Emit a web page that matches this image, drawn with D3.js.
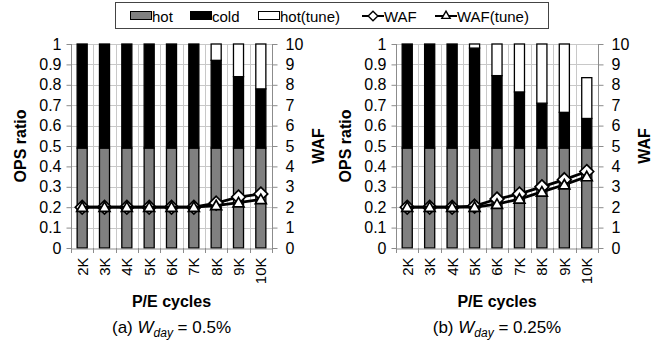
<!DOCTYPE html>
<html>
<head>
<meta charset="utf-8">
<script src="https://cdn.jsdelivr.net/npm/d3@7"></script>
<style>
  html, body { margin: 0; padding: 0; background: #fff; }
  svg { display: block; font-family: "Liberation Sans", Arial, sans-serif; }
</style>
</head>
<body>
<svg id="chart" width="664" height="346"></svg>
<script>
// P/E cycle categories shared by both panels
const categories = ["2K", "3K", "4K", "5K", "6K", "7K", "8K", "9K", "10K"];

// Panel (a): W_day = 0.5%
const hotA     = [0.49, 0.49, 0.49, 0.49, 0.49, 0.49, 0.49, 0.49, 0.49];
const coldA    = [0.51, 0.51, 0.51, 0.51, 0.51, 0.51, 0.43, 0.35, 0.29];
const hotTuneA = [0, 0, 0, 0, 0, 0, 0.08, 0.16, 0.22];
const wafA     = [2, 2, 2, 2, 2, 2, 2.2, 2.5, 2.65];
const wafTuneA = [2, 2, 2, 2, 2, 2, 2.08, 2.22, 2.38];

// Panel (b): W_day = 0.25%
const hotB     = [0.49, 0.49, 0.49, 0.49, 0.49, 0.49, 0.49, 0.49, 0.49];
const coldB    = [0.51, 0.51, 0.51, 0.49, 0.355, 0.275, 0.22, 0.175, 0.145];
const hotTuneB = [0, 0, 0, 0.02, 0.155, 0.235, 0.29, 0.335, 0.2];
const wafB     = [2, 2, 2, 2.05, 2.4, 2.65, 3.0, 3.35, 3.75];
const wafTuneB = [2, 2, 2, 2.0, 2.15, 2.4, 2.75, 3.1, 3.5];

const ratioTicks = [0, 0.1, 0.2, 0.3, 0.4, 0.5, 0.6, 0.7, 0.8, 0.9, 1];
const wafTicks = [0, 1, 2, 3, 4, 5, 6, 7, 8, 9, 10];

const seriesKeys = ["hot", "cold", "hotTune"];
const fills = { hot: "#808080", cold: "#000000", hotTune: "#ffffff" };

const svg = d3.select("#chart");
const plotTop = 44, plotBottom = 248;
const gridColor = "#c8c8c8", axisColor = "#8c8c8c";

function panel(opts) {
  const { left, right, hot, cold, hotTune, waf, wafTune, captionParts } = opts;
  const g = svg.append("g");

  const x = d3.scaleBand().domain(categories).range([left, right]).paddingInner(0.55).paddingOuter(0.275);
  const y = d3.scaleLinear().domain([0, 1]).range([plotBottom, plotTop]);
  const y2 = d3.scaleLinear().domain([0, 10]).range([plotBottom, plotTop]);

  // horizontal gridlines
  g.append("g").selectAll("line").data(ratioTicks.slice(1)).join("line")
    .attr("x1", left).attr("x2", right)
    .attr("y1", d => Math.round(y(d)) + 0.5).attr("y2", d => Math.round(y(d)) + 0.5)
    .attr("stroke", gridColor).attr("stroke-width", 1);

  // vertical gridlines at category boundaries
  const bounds = d3.range(1, categories.length + 1).map(i => left + i * (right - left) / categories.length);
  g.append("g").selectAll("line").data(bounds).join("line")
    .attr("x1", d => Math.round(d) + 0.5).attr("x2", d => Math.round(d) + 0.5)
    .attr("y1", plotTop).attr("y2", plotBottom)
    .attr("stroke", gridColor).attr("stroke-width", 1);

  // stacked bars
  const rows = categories.map((c, i) => ({ cat: c, hot: hot[i], cold: cold[i], hotTune: hotTune[i] }));
  const stacked = d3.stack().keys(seriesKeys)(rows);
  stacked.forEach(layer => {
    g.append("g").selectAll("rect").data(layer.filter(d => d[1] - d[0] > 0)).join("rect")
      .attr("x", d => x(d.data.cat))
      .attr("width", x.bandwidth())
      .attr("y", d => y(d[1]))
      .attr("height", d => y(d[0]) - y(d[1]))
      .attr("fill", fills[layer.key])
      .attr("stroke", "#000").attr("stroke-width", 1.3);
  });

  // left axis
  const axL = g.append("g").attr("transform", `translate(${left + 0.5},0)`)
    .call(d3.axisLeft(y).tickValues(ratioTicks).tickFormat(d3.format("~g")).tickSize(5).tickPadding(5));
  // right axis
  const axR = g.append("g").attr("transform", `translate(${right + 0.5},0)`)
    .call(d3.axisRight(y2).tickValues(wafTicks).tickSize(5).tickPadding(8));
  // bottom axis, labels rotated
  const axB = g.append("g").attr("transform", `translate(0,${plotBottom + 0.5})`)
    .call(d3.axisBottom(x).tickSize(0).tickPadding(6));

  [axL, axR, axB].forEach(a => {
    a.selectAll(".domain").attr("stroke", axisColor);
    a.selectAll(".tick line").attr("stroke", axisColor);
    a.selectAll(".tick text").attr("font-size", 16).attr("fill", "#000")
      .attr("font-family", "'Liberation Sans', Arial, sans-serif");
  });
  axB.selectAll(".tick text")
    .attr("font-size", 15)
    .attr("text-anchor", "end")
    .attr("x", 0).attr("y", 0)
    .attr("dx", 0).attr("dy", "0.36em")
    .attr("transform", "translate(0,9) rotate(-90)");
  // ticks at category boundaries
  g.append("g").selectAll("line").data([left].concat(bounds)).join("line")
    .attr("x1", d => Math.round(d) + 0.5).attr("x2", d => Math.round(d) + 0.5)
    .attr("y1", plotBottom).attr("y2", plotBottom + 5)
    .attr("stroke", axisColor);
  axR.select(".domain").attr("d", `M0,${plotTop}V${plotBottom}`);
  axL.select(".domain").attr("d", `M0,${plotTop}V${plotBottom}`);

  // WAF lines with markers
  const cx = c => x(c) + x.bandwidth() / 2;
  const line = d3.line().x((d, i) => cx(categories[i])).y(d => y2(d));
  const drawSeries = (vals, symType, size, yOff) => {
    g.append("path").datum(vals).attr("d", line)
      .attr("fill", "none").attr("stroke", "#000").attr("stroke-width", 2.8);
    g.append("g").selectAll("path").data(vals).join("path")
      .attr("transform", (d, i) => `translate(${cx(categories[i])},${y2(d) + yOff})`)
      .attr("d", d3.symbol().type(symType).size(size))
      .attr("fill", "#fff").attr("stroke", "#000").attr("stroke-width", 1.7);
  };
  drawSeries(waf, d3.symbolDiamond2, 120, 0);
  drawSeries(wafTune, d3.symbolTriangle2, 85, 1);

  // axis titles
  const midY = (plotTop + plotBottom) / 2;
  g.append("text").attr("transform", `translate(${left - 45},${midY}) rotate(-90)`)
    .attr("text-anchor", "middle").attr("font-size", 16).attr("font-weight", "bold").text("OPS ratio");
  g.append("text").attr("transform", `translate(${right + 52},${midY}) rotate(-90)`)
    .attr("text-anchor", "middle").attr("font-size", 16).attr("font-weight", "bold").text("WAF");
  g.append("text").attr("x", (left + right) / 2).attr("y", 307)
    .attr("text-anchor", "middle").attr("font-size", 16).attr("font-weight", "bold").text("P/E cycles");

  // caption
  const cap = g.append("text").attr("x", (left + right) / 2).attr("y", 333)
    .attr("text-anchor", "middle").attr("font-size", 17);
  cap.append("tspan").text(captionParts[0]);
  cap.append("tspan").attr("font-style", "italic").text("W");
  cap.append("tspan").attr("font-style", "italic").attr("font-size", 12).attr("dy", 4).text("day");
  cap.append("tspan").attr("dy", -4).text(captionParts[1]);
}

panel({ left: 71, right: 272, hot: hotA, cold: coldA, hotTune: hotTuneA, waf: wafA, wafTune: wafTuneA,
  captionParts: ["(a) ", " = 0.5%"] });
panel({ left: 396, right: 598, hot: hotB, cold: coldB, hotTune: hotTuneB, waf: wafB, wafTune: wafTuneB,
  captionParts: ["(b) ", " = 0.25%"] });

// legend
const lg = svg.append("g");
lg.append("rect").attr("x", 115.5).attr("y", 2.5).attr("width", 433).attr("height", 26)
  .attr("fill", "#fff").attr("stroke", "#444").attr("stroke-width", 1);
const legendItems = [
  { label: "hot", kind: "rect", fill: fills.hot, x: 130 },
  { label: "cold", kind: "rect", fill: fills.cold, x: 190 },
  { label: "hot(tune)", kind: "rect", fill: fills.hotTune, x: 258 },
  { label: "WAF", kind: "line", sym: d3.symbolDiamond2, size: 60, x: 362 },
  { label: "WAF(tune)", kind: "line", sym: d3.symbolTriangle2, size: 50, x: 435 }
];
legendItems.forEach(it => {
  const cy = 16;
  if (it.kind === "rect") {
    lg.append("rect").attr("x", it.x + 0.5).attr("y", cy - 4.5).attr("width", 21).attr("height", 8)
      .attr("fill", it.fill).attr("stroke", "#000").attr("stroke-width", 1);
  } else {
    lg.append("line").attr("x1", it.x).attr("x2", it.x + 22).attr("y1", cy).attr("y2", cy)
      .attr("stroke", "#000").attr("stroke-width", 2);
    lg.append("path").attr("transform", `translate(${it.x + 11},${cy})`)
      .attr("d", d3.symbol().type(it.sym).size(it.size))
      .attr("fill", "#fff").attr("stroke", "#000").attr("stroke-width", 1.4);
  }
  lg.append("text").attr("x", it.x + 22).attr("y", cy + 5.5).attr("font-size", 15).text(it.label);
});
</script>
</body>
</html>
